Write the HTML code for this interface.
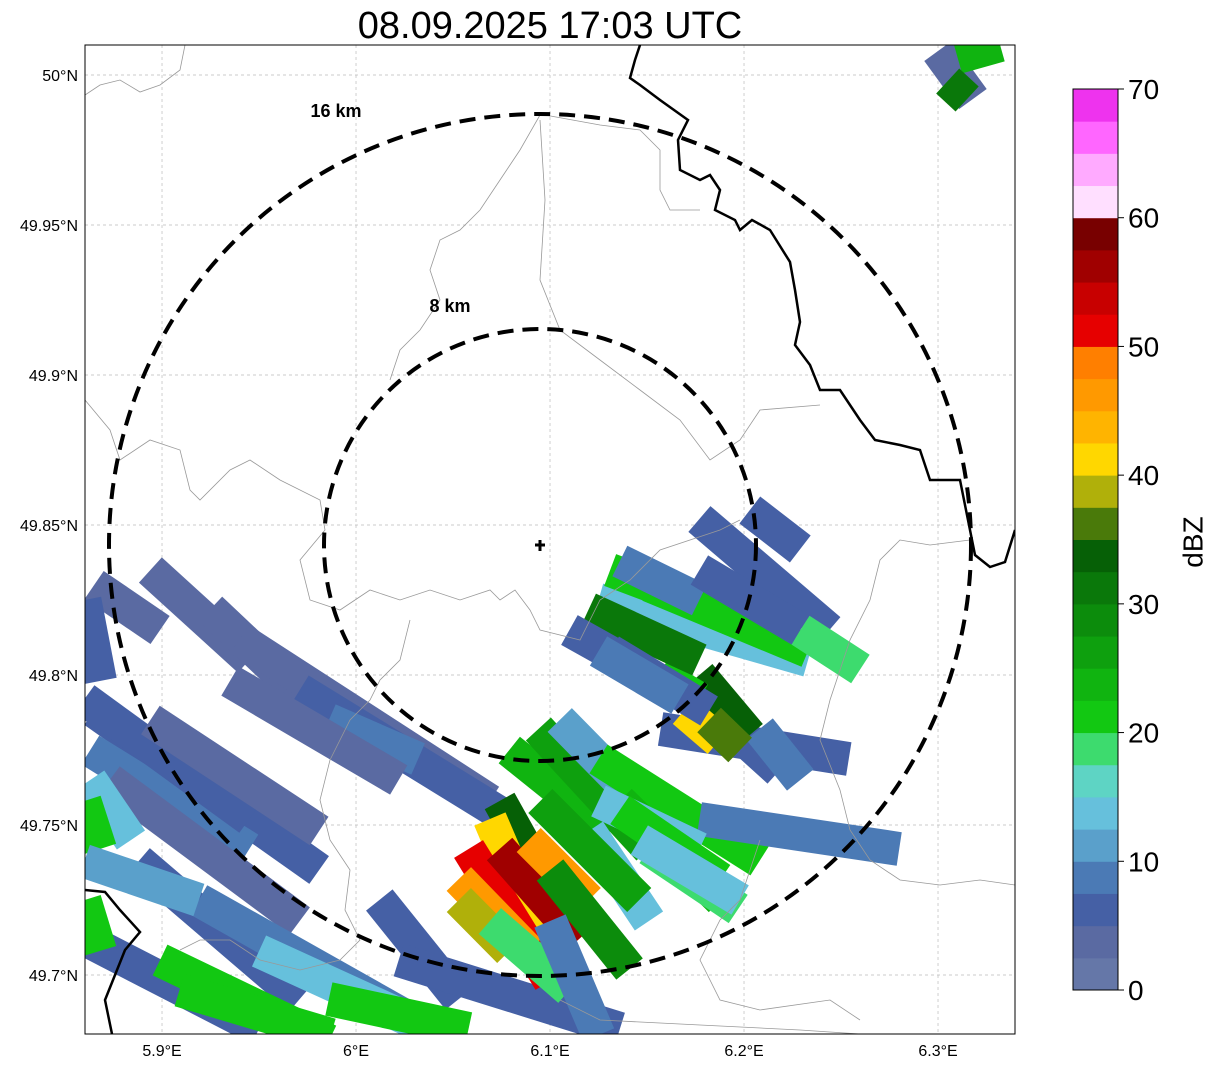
<!DOCTYPE html>
<html><head><meta charset="utf-8">
<style>
html,body{margin:0;padding:0;background:#fff;width:1207px;height:1069px;overflow:hidden;font-family:"Liberation Sans","DejaVu Sans",sans-serif;}
svg{display:block}
</style></head>
<body>
<svg id="chart" width="1207" height="1069" xmlns="http://www.w3.org/2000/svg">
<defs><clipPath id="mapclip"><rect x="85" y="45" width="930" height="989"/></clipPath></defs>
<text x="550" y="38" font-size="38" text-anchor="middle" fill="#000">08.09.2025 17:03 UTC</text>
<g id="grid"></g>
<g id="cells" clip-path="url(#mapclip)"></g>
<g clip-path="url(#mapclip)" fill="none">
<polyline stroke="#999" stroke-width="0.8" points="85,95 100,85 120,80 140,92 160,85 180,70 185,45"/>
<polyline stroke="#999" stroke-width="0.8" points="85,400 110,430 120,460 150,440 180,450 190,490 200,500 230,470 250,460 280,480 320,500 325,530 300,560 310,600 340,610 370,590 400,600 430,590 460,600 490,590 500,600 515,590 530,610 540,630 580,640 600,600 630,580 660,550 720,530 740,520"/>
<polyline stroke="#999" stroke-width="0.8" points="540,115 520,150 500,180 480,210 460,230 440,240 430,270 440,300 420,330 400,350 390,380"/>
<polyline stroke="#999" stroke-width="0.8" points="540,120 545,200 540,280 560,330 600,360 640,390 680,420 710,460 740,440 760,410 820,405"/>
<polyline stroke="#999" stroke-width="0.8" points="545,115 600,125 640,130 660,150 660,190 670,210 700,210"/>
<polyline stroke="#999" stroke-width="0.8" points="410,620 400,660 380,680 370,700 350,720 330,760 320,800 330,840 350,870 345,910 360,940 340,960 300,970 260,960 230,940 200,940 180,950"/>
<polyline stroke="#999" stroke-width="0.8" points="560,1000 600,1020 700,1025 800,1030 860,1034"/>
<polyline stroke="#999" stroke-width="0.8" points="970,540 930,545 900,540 880,560 870,600 850,640 830,700 820,740 840,790 850,830 870,860 900,880 940,885 980,880 1015,885"/>
<polyline stroke="#999" stroke-width="0.8" points="760,840 750,870 740,900 720,920 700,960 720,1000 760,1010 830,1000 860,1020"/>
<polyline stroke="#000" stroke-width="2.5" points="640,45 635,60 630,78 640,85 660,100 688,120 678,140 680,170 700,180 710,175 720,190 715,210 735,220 740,230 752,220 770,230 790,262 795,290 800,322 795,345 810,365 820,390 840,390 860,420 875,440 900,445 920,450 930,480 960,480 968,520 975,555 990,567 1005,562 1015,530"/>
<polyline stroke="#000" stroke-width="2.5" points="85,890 105,892 120,910 140,932 125,950 115,975 105,1000 112,1034"/>
</g>
<g fill="none" stroke="#000" stroke-width="4" stroke-dasharray="16,9">
<circle cx="540" cy="545" r="431"/>
<circle cx="540" cy="545" r="216"/>
</g>
<text x="336" y="117" font-size="18" font-weight="bold" text-anchor="middle">16 km</text>
<text x="450" y="312" font-size="18" font-weight="bold" text-anchor="middle">8 km</text>
<path d="M540,540 V551 M535,545 H545" stroke="#000" stroke-width="3"/>
<rect x="85" y="45" width="930" height="989" fill="none" stroke="#000" stroke-width="1"/>
<g id="axes"></g>
<g id="cbar"></g>
<text x="1195" y="542" font-size="28" text-anchor="middle" transform="rotate(-90 1195 542)" dominant-baseline="middle">dBZ</text>
</svg>
<script>
const lonTicks=[5.9,6.0,6.1,6.2,6.3];
const lonTickLabels=["5.9°E","6°E","6.1°E","6.2°E","6.3°E"];
const latTicks=[50.0,49.95,49.9,49.85,49.8,49.75,49.7];
const latTickLabels=["50°N","49.95°N","49.9°N","49.85°N","49.8°N","49.75°N","49.7°N"];
const cbarTicks=[0,10,20,30,40,50,60,70];
const cbarColors=["#6577a8","#5a6aa2","#4560a5","#4b7ab5","#5aa0cb","#66c0dc","#5ed4c4","#3ddb6e","#12c812","#10b410","#0ea00e","#0c8c0c","#0a780a","#066006","#4a7a0a","#b0b00a","#ffd700","#ffb400","#ff9900","#ff7f00","#e60000","#c80000","#a00000","#780000","#ffdfff","#ffaaff","#ff66ff","#ee33ee"];
// streaks: start lon, start lat, end lon, end lat, dBZ
const streakLon1=[5.865,5.894,5.925,5.940,5.971,5.986,5.865,5.863,5.873,5.863,5.888,5.919,5.860,5.899,5.950,6.012,6.022,5.986,6.079,6.094,6.074,6.069,6.058,6.053,6.074,6.089,6.100,6.120,6.053,6.069,6.100,6.105,6.125,6.136,6.157,6.177,6.125,6.151,6.177,6.208,6.177,6.169,6.182,6.156,6.177,6.203,6.125,6.120,6.110,6.131,6.151,6.131,6.136,6.229,6.300,6.310,6.305,5.860,5.860,5.860, 5.860,5.894,5.935,5.860,5.909,6.095,6.136,6.146,6.177,6.125];
const streakLat1=[49.830,49.835,49.822,49.812,49.795,49.785,49.788,49.775,49.765,49.765,49.738,49.725,49.712,49.705,49.708,49.725,49.705,49.692,49.775,49.782,49.758,49.752,49.742,49.732,49.742,49.745,49.735,49.748,49.725,49.718,49.718,49.785,49.772,49.758,49.782,49.752,49.758,49.742,49.792,49.782,49.800,49.788,49.785,49.800,49.852,49.855,49.825,49.822,49.815,49.808,49.830,49.835,49.838,49.815,50.008,50.006,49.998,49.825,49.758,49.725, 49.792,49.785,49.798,49.738,49.695,49.758,49.755,49.745,49.835,49.808];
const streakLon2=[5.899,5.945,6.007,6.069,6.079,6.032,5.981,5.945,5.971,5.884,5.971,6.048,5.950,5.986,6.038,6.053,6.136,6.058,6.131,6.151,6.105,6.100,6.100,6.089,6.115,6.120,6.141,6.151,6.079,6.110,6.125,6.146,6.208,6.188,6.254,6.280,6.177,6.197,6.218,6.229,6.203,6.187,6.198,6.177,6.244,6.229,6.233,6.177,6.146,6.182,6.233,6.172,6.177,6.260,6.318,6.332,6.315,5.868,5.868,5.868, 5.945,5.981,6.022,5.919,5.987,6.146,6.188,6.198,6.229,6.167];
const streakLat2=[49.815,49.805,49.772,49.758,49.752,49.772,49.735,49.742,49.718,49.745,49.692,49.678,49.682,49.678,49.682,49.692,49.682,49.682,49.748,49.742,49.722,49.705,49.698,49.708,49.712,49.725,49.702,49.718,49.708,49.695,49.680,49.758,49.738,49.725,49.772,49.742,49.742,49.722,49.768,49.765,49.780,49.778,49.775,49.792,49.815,49.842,49.805,49.805,49.802,49.788,49.808,49.825,49.825,49.802,49.992,50.010,49.992,49.798,49.742,49.708, 49.752,49.748,49.765,49.725,49.680,49.725,49.732,49.725,49.815,49.792];
const streakDbz=[4,3,4,3,6,8,5,8,4,14,5,9,6,22,14,5,6,20,24,26,33,42,52,46,56,45,28,14,38,18,8,10,22,24,6,8,14,18,5,8,33,42,36,20,5,5,14,30,5,5,20,20,8,18,4,24,30,6,20,20, 5,4,3,10,22,26,22,14,5,8];

const X=lon=>85+(lon-5.8603)*1940;
const Y=lat=>45+(50.01-lat)*3000;
const NS="http://www.w3.org/2000/svg";
function mk(tag,attrs,parent){const e=document.createElementNS(NS,tag);for(const k in attrs)e.setAttribute(k,attrs[k]);parent.appendChild(e);return e;}
const colorFor=d=>cbarColors[Math.max(0,Math.min(cbarColors.length-1,Math.floor(d/2.5)))];

const grid=document.getElementById('grid'),axes=document.getElementById('axes');
lonTicks.forEach((v,i)=>{
  const l=mk('line',{x1:X(v),x2:X(v),y1:45,y2:1034,stroke:'#bbb','stroke-width':0.7,'stroke-dasharray':'3,3'},grid);
  
  
  const t=mk('text',{x:X(v),y:1056,'font-size':16,'text-anchor':'middle'},axes);
  t.textContent=lonTickLabels[i];
  
  
});
latTicks.forEach((v,i)=>{
  const l=mk('line',{x1:85,x2:1015,y1:Y(v),y2:Y(v),stroke:'#bbb','stroke-width':0.7,'stroke-dasharray':'3,3'},grid);
  
  
  const t=mk('text',{x:78,y:Y(v)+6,'font-size':16,'text-anchor':'end'},axes);
  t.textContent=latTickLabels[i];
  
  
});
const cells=document.getElementById('cells');
streakDbz.forEach((d,i)=>{
  const l=mk('line',{x1:X(streakLon1[i]),y1:Y(streakLat1[i]),x2:X(streakLon2[i]),y2:Y(streakLat2[i]),stroke:colorFor(d),'stroke-width':34,'stroke-linecap':'butt'},cells);
  
  
});
const cb=document.getElementById('cbar');
const cTop=89,cBot=990,cx=1073,cw=45;
const cY=v=>cBot-(v/70)*(cBot-cTop);
cbarColors.forEach((c,i)=>{
  const r=mk('rect',{x:cx,y:cY((i+1)*2.5),width:cw,height:cY(i*2.5)-cY((i+1)*2.5)+0.5,fill:c},cb);
  
  
});
const fr=mk('rect',{x:cx,y:cTop,width:cw,height:cBot-cTop,fill:'none',stroke:'#000','stroke-width':1},cb);


cbarTicks.forEach(v=>{
  const tk=mk('line',{x1:cx+cw,x2:cx+cw+6,y1:cY(v),y2:cY(v),stroke:'#000'},cb);
  
  
  const t=mk('text',{x:cx+cw+10,y:cY(v)+10,'font-size':28},cb);
  t.textContent=v;
  
  
});
</script>
</body></html>
